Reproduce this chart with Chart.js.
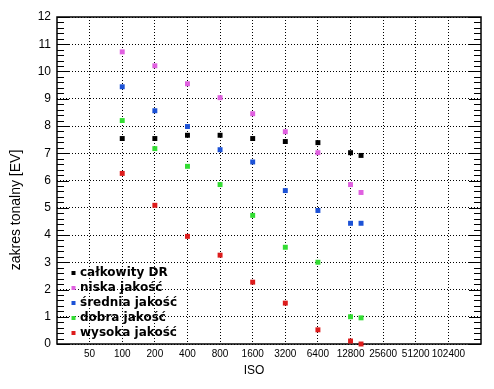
<!DOCTYPE html>
<html>
<head>
<meta charset="utf-8">
<script src="https://cdn.jsdelivr.net/npm/chart.js@4.4.1/dist/chart.umd.min.js"></script>
<style>
html,body{margin:0;padding:0;background:#fff;}
#wrap{width:494px;height:389px;position:relative;}
</style>
</head>
<body>
<div id="wrap"><canvas id="c" width="494" height="389"></canvas></div>
<script>
const isoValues = [100, 200, 400, 800, 1600, 3200, 6400, 12800, 16000];
const calkowityDR = [7.54, 7.54, 7.66, 7.66, 7.54, 7.43, 7.39, 7.02, 6.92];
const niskaJakosc = [10.72, 10.21, 9.55, 9.04, 8.45, 7.79, 7.02, 5.85, 5.56];
const sredniaJakosc = [9.44, 8.56, 7.98, 7.13, 6.68, 5.63, 4.90, 4.43, 4.43];
const dobraJakosc = [8.20, 7.17, 6.52, 5.85, 4.72, 3.55, 3.00, 1.00, 0.96];
const wysokaJakosc = [6.26, 5.09, 3.95, 3.26, 2.27, 1.50, 0.52, 0.11, 0.00];
const xTickValues = [50, 100, 200, 400, 800, 1600, 3200, 6400, 12800, 25600, 51200, 102400];
const seriesNames = ['całkowity DR', 'niska jakość', 'średnia jakość', 'dobra jakość', 'wysoka jakość'];
const seriesColors = ['#000000', '#e060e0', '#1c52d6', '#33dd33', '#dd1c1c'];
const seriesValues = [calkowityDR, niskaJakosc, sredniaJakosc, dobraJakosc, wysokaJakosc];

const datasets = seriesValues.map((vals, i) => ({
  label: seriesNames[i],
  data: isoValues.map((x, j) => ({x: x, y: vals[j]})),
  backgroundColor: seriesColors[i],
  borderColor: seriesColors[i],
  borderWidth: 0,
  pointStyle: 'rect',
  pointRadius: 3.5,
  pointHoverRadius: 3.5,
  showLine: false,
  clip: false
}));

const framePlugin = {
  id: 'frame',
  beforeDatasetsDraw(chart) {
    const {ctx, chartArea: a, scales: {y}} = chart;
    ctx.save();
    ctx.strokeStyle = '#000';
    ctx.lineWidth = 1;
    for (let k = 0; k <= 60; k++) {
      const v = k / 5;
      const py = Math.round(y.getPixelForValue(v)) + 0.5;
      const len = (k % 5 === 0) ? 12 : 7;
      ctx.beginPath();
      ctx.moveTo(a.left, py); ctx.lineTo(a.left + len, py);
      ctx.moveTo(a.right, py); ctx.lineTo(a.right - len, py);
      ctx.stroke();
    }
    ctx.lineWidth = 1.5;
    ctx.strokeRect(a.left, a.top, a.right - a.left, a.bottom - a.top);
    ctx.restore();
  },
  afterDraw(chart) {
    const {ctx} = chart;
    ctx.save();
    ctx.fillStyle = '#000';
    ctx.font = '12px "Liberation Sans", Arial, sans-serif';
    ctx.textAlign = 'center';
    ctx.textBaseline = 'middle';
    ctx.fillText('ISO', 254, 371);
    ctx.translate(16, 210);
    ctx.rotate(-Math.PI / 2);
    ctx.font = '14px "Liberation Sans", Arial, sans-serif';
    ctx.fillText('zakres tonalny [EV]', 0, 0);
    ctx.restore();
    ctx.save();
    ctx.font = 'bold 12px "DejaVu Sans", sans-serif';
    ctx.textAlign = 'left';
    ctx.textBaseline = 'middle';
    seriesNames.forEach((name, i) => {
      const yy = 273 + i * 15;
      ctx.fillStyle = seriesColors[i];
      ctx.fillRect(71.5, yy - 2, 4, 4);
      ctx.fillStyle = '#000';
      ctx.fillText(name, 80, yy);
    });
    ctx.restore();
  }
};

new Chart(document.getElementById('c'), {
  type: 'scatter',
  data: {datasets},
  options: {
    responsive: false,
    animation: false,
    events: [],
    layout: {padding: {left: 0, top: 17, right: 13, bottom: 0}},
    plugins: {legend: {display: false}, tooltip: {enabled: false}},
    scales: {
      x: {
        type: 'logarithmic',
        min: 25,
        max: 204800,
        afterBuildTicks: s => { s.ticks = xTickValues.map(v => ({value: v})); },
        afterFit: s => { s.height = 45; },
        grid: {color: '#000', lineWidth: 1, drawTicks: false},
        border: {display: false, dash: [1, 2]},
        ticks: {
          autoSkip: false, maxRotation: 0, padding: 4, color: '#000',
          font: {family: '"Liberation Sans", Arial, sans-serif', size: 10},
          callback: v => String(v)
        }
      },
      y: {
        min: 0,
        max: 12,
        afterFit: s => { s.width = 57; },
        grid: {color: '#000', lineWidth: 1, drawTicks: false},
        border: {display: false, dash: [1, 2]},
        ticks: {
          stepSize: 1, padding: 6, color: '#000',
          font: {family: '"Liberation Sans", Arial, sans-serif', size: 12}
        }
      }
    }
  },
  plugins: [framePlugin]
});
</script>
</body>
</html>
